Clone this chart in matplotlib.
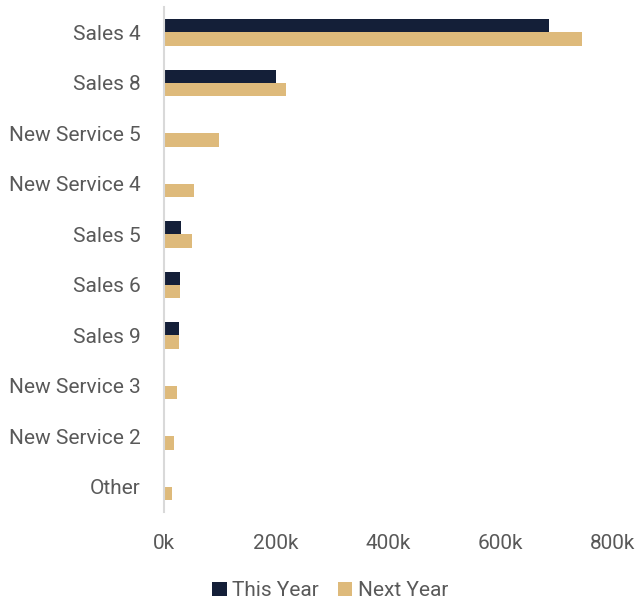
import matplotlib

matplotlib.use("Agg")
import matplotlib.pyplot as plt
import numpy as np
from matplotlib.ticker import FuncFormatter

plt.rcParams["font.family"] = ["Roboto", "DejaVu Sans"]

CATEGORIES = [
    "Sales 4",
    "Sales 8",
    "New Service 5",
    "New Service 4",
    "Sales 5",
    "Sales 6",
    "Sales 9",
    "New Service 3",
    "New Service 2",
    "Other",
]
THIS_YEAR = [688, 200, 0, 0, 31, 28, 27, 0, 0, 0]
NEXT_YEAR = [746, 218, 99, 54, 51, 28, 27, 24, 19, 14]
XTICKS = [0, 200, 400, 600, 800]

NAVY = "#141F38"
TAN = "#DEBA7B"
GREY = "#595959"


def fmt_k(x, _):
    return f"{int(x)}k"


fig = plt.figure(figsize=(6.35, 5.99), dpi=100)
ax = fig.add_axes([0.258, 0.145, 0.706, 0.843])

y = np.arange(len(CATEGORIES))
h = 0.26
ax.barh(y - h / 2, THIS_YEAR, height=h, color=NAVY, label="This Year")
ax.barh(y + h / 2, NEXT_YEAR, height=h, color=TAN, label="Next Year")

ax.set_ylim(len(CATEGORIES) - 0.5, -0.5)
ax.set_xlim(0, 800)
ax.set_yticks(y)
ax.set_yticklabels(CATEGORIES)
ax.set_xticks(XTICKS)
ax.xaxis.set_major_formatter(FuncFormatter(fmt_k))

for s in ["top", "right", "bottom"]:
    ax.spines[s].set_visible(False)
ax.spines["left"].set_color("#D9D9D9")
ax.spines["left"].set_linewidth(1.5)

ax.tick_params(axis="y", length=0, pad=16.5, labelsize=15, labelcolor=GREY)
ax.tick_params(axis="x", length=0, pad=16, labelsize=15, labelcolor=GREY)

fig.legend(
    loc="center",
    bbox_to_anchor=(0.52, 0.014),
    ncol=2,
    frameon=False,
    fontsize=15,
    labelcolor=GREY,
    handlelength=0.7,
    handleheight=0.7,
    handletextpad=0.25,
    columnspacing=0.9,
)

fig.savefig("out.png", dpi=100)
